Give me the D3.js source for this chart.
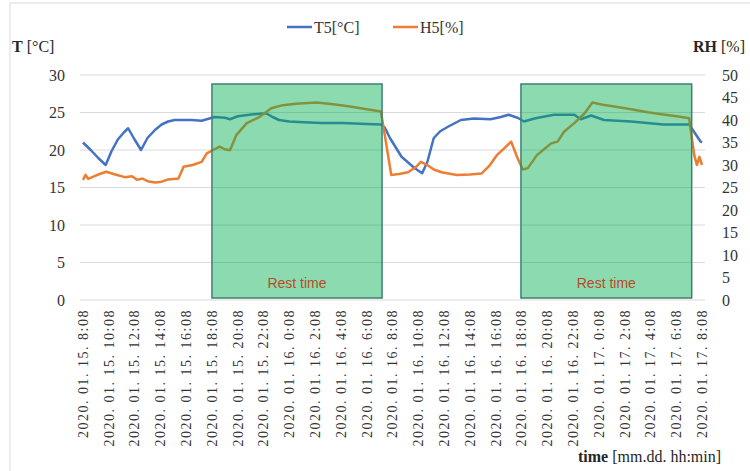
<!DOCTYPE html>
<html><head><meta charset="utf-8">
<script src="https://cdn.jsdelivr.net/npm/d3@7"></script>
<style>body{margin:0;background:#fff}svg{display:block}</style>
</head><body>
<svg id="c" width="750" height="471"></svg>
<script>
// hours since 2020.01.15 8:08
const tempHours = [0,0.6,1.2,1.76,2.2,2.7,3.2,3.5,4.0,4.5,5.0,5.6,6.1,6.6,7.1,7.6,8.4,9.2,10.2,11.0,11.4,12.0,12.9,13.5,14.2,14.7,15.2,16.0,17.1,18.5,20.1,21.5,23.1,23.4,23.8,24.7,25.7,26.3,26.7,27.2,27.7,28.3,29.3,30.3,31.6,32.4,33.0,33.7,34.2,35.0,36.5,38.1,38.6,39.4,40.4,42.5,45.0,47.0,47.9,48.0];
const tempValues = [21.0,20.0,18.9,18.0,19.8,21.4,22.4,22.9,21.4,20.0,21.6,22.7,23.4,23.8,24.0,24.0,24.0,23.9,24.4,24.3,24.1,24.5,24.7,24.8,24.9,24.4,24.0,23.8,23.7,23.6,23.6,23.5,23.4,23.0,21.6,19.1,17.6,16.9,18.4,21.6,22.5,23.1,24.0,24.2,24.1,24.4,24.7,24.3,23.8,24.2,24.7,24.7,24.1,24.6,24.0,23.8,23.4,23.4,21.1,21.0];
const humHours = [0,0.2,0.4,0.8,1.3,1.8,2.5,3.25,3.8,4.2,4.6,5.0,5.6,6.1,6.6,7.4,7.8,8.5,9.2,9.6,10.2,10.6,11.0,11.4,11.9,12.7,13.7,14.6,15.5,16.5,18.1,19.4,20.7,22.0,23.1,23.4,23.9,24.5,25.2,25.8,26.2,26.7,27.2,27.8,29.0,30.0,30.9,31.5,32.1,32.7,33.2,33.7,34.1,34.5,35.2,35.8,36.3,36.8,37.3,38.1,38.9,39.5,40.3,41.2,42.5,43.8,45.0,46.3,47.0,47.4,47.6,47.8,48.0];
const humValues = [26.7,27.8,26.9,27.4,28.0,28.5,27.9,27.3,27.5,26.7,27.0,26.4,26.1,26.3,26.8,27.0,29.6,30.0,30.7,32.6,33.5,34.1,33.5,33.3,36.7,39.3,40.7,42.6,43.3,43.6,43.9,43.5,43.0,42.4,41.9,36.7,27.8,28.0,28.4,29.5,30.7,30.0,29.0,28.4,27.8,27.9,28.1,29.8,32.2,33.8,35.2,31.5,29.0,29.3,32.2,33.6,34.8,35.2,37.4,39.3,41.5,43.9,43.4,43.0,42.4,41.7,41.2,40.7,40.4,32.2,30.0,31.8,30.0];
const tickLabels = ["2020. 01. 15. 8:08","2020. 01. 15. 10:08","2020. 01. 15. 12:08","2020. 01. 15. 14:08","2020. 01. 15. 16:08","2020. 01. 15. 18:08","2020. 01. 15. 20:08","2020. 01. 15. 22:08","2020. 01. 16. 0:08","2020. 01. 16. 2:08","2020. 01. 16. 4:08","2020. 01. 16. 6:08","2020. 01. 16. 8:08","2020. 01. 16. 10:08","2020. 01. 16. 12:08","2020. 01. 16. 14:08","2020. 01. 16. 16:08","2020. 01. 16. 18:08","2020. 01. 16. 20:08","2020. 01. 16. 22:08","2020. 01. 17. 0:08","2020. 01. 17. 2:08","2020. 01. 17. 4:08","2020. 01. 17. 6:08","2020. 01. 17. 8:08"];
const tickHours = tickLabels.map((d,i)=>i*2);
const leftTicks = [0,5,10,15,20,25,30];
const rightTicks = [0,5,10,15,20,25,30,35,40,45,50];
const restStart = [10.0, 33.96];
const restEnd = [23.19, 47.2];
const restTop = 28.8;
const restLabel = "Rest time";
const seriesNames = ["T5[°C]","H5[%]"];
const colors = ["#4472c4","#ed7d31"];

const svg = d3.select("#c");
const x = d3.scaleLinear().domain([0,48]).range([83,702]);
const yT = d3.scaleLinear().domain([0,30]).range([300,75]);
const yH = d3.scaleLinear().domain([0,50]).range([300,75]);
const serif = "Liberation Serif, DejaVu Serif, Times New Roman, serif";

// frame
svg.append("rect").attr("x",10).attr("y",3).attr("width",780).attr("height",500)
  .attr("fill","none").attr("stroke","#d9d9d9");

// gridlines
svg.append("g").selectAll("line").data(leftTicks).join("line")
  .attr("x1",80).attr("x2",705).attr("y1",d=>yT(d)).attr("y2",d=>yT(d))
  .attr("stroke","#d9d9d9").attr("stroke-width",1);

// left axis labels
svg.append("g").selectAll("text").data(leftTicks).join("text")
  .attr("x",65).attr("y",d=>yT(d)).attr("dy","0.35em").attr("text-anchor","end")
  .style("font-family",serif).attr("font-size",16).attr("fill","#333").text(d=>d);
// right axis labels
svg.append("g").selectAll("text").data(rightTicks).join("text")
  .attr("x",722).attr("y",d=>yH(d)).attr("dy","0.35em").attr("text-anchor","start")
  .style("font-family",serif).attr("font-size",16).attr("fill","#333").text(d=>d);

// x labels
svg.append("g").selectAll("text").data(tickLabels).join("text")
  .attr("transform",(d,i)=>`translate(${x(tickHours[i])},309) rotate(-90)`)
  .attr("dy","0.35em").attr("text-anchor","end")
  .style("font-family",serif).attr("font-size",14).attr("letter-spacing",1.5)
  .attr("fill","#333").text(d=>d);

// lines
const tempData = tempHours.map((h,i)=>[h,tempValues[i]]);
const humData = humHours.map((h,i)=>[h,humValues[i]]);
svg.append("path").datum(tempData).attr("fill","none").attr("stroke",colors[0]).attr("stroke-width",2.5)
  .attr("stroke-linejoin","round").attr("d",d3.line().x(d=>x(d[0])).y(d=>yT(d[1])));
svg.append("path").datum(humData).attr("fill","none").attr("stroke",colors[1]).attr("stroke-width",2.5)
  .attr("stroke-linejoin","round").attr("d",d3.line().x(d=>x(d[0])).y(d=>yH(d[1])));

// rest rectangles
const rest = restStart.map((s,i)=>({s,e:restEnd[i]}));
const rg = svg.append("g");
rg.selectAll("rect").data(rest).join("rect")
  .attr("x",d=>x(d.s)).attr("width",d=>x(d.e)-x(d.s))
  .attr("y",yT(restTop)).attr("height",yT(0)-yT(restTop)-2)
  .attr("fill","#00b050").attr("fill-opacity",0.45)
  .attr("stroke","#3f7f72").attr("stroke-width",1.5);
rg.selectAll("text").data(rest).join("text")
  .attr("x",d=>(x(d.s)+x(d.e))/2).attr("y",288).attr("text-anchor","middle")
  .style("font-family","Liberation Sans, Arial, sans-serif").attr("font-size",14).attr("font-weight",500)
  .attr("fill","#b84a2a").text(restLabel);

// legend
const lg = svg.append("g");
const lx = [287,393];
seriesNames.forEach((n,i)=>{
  lg.append("line").attr("x1",lx[i]).attr("x2",lx[i]+25).attr("y1",27).attr("y2",27)
    .attr("stroke",colors[i]).attr("stroke-width",2.5);
  lg.append("text").attr("x",lx[i]+27).attr("y",27).attr("dy","0.35em")
    .style("font-family",serif).attr("font-size",16).attr("fill","#333").text(n);
});

// axis titles
const t1 = svg.append("text").attr("x",12).attr("y",52).style("font-family",serif).attr("font-size",16).attr("fill","#262626");
t1.append("tspan").attr("font-weight","bold").text("T");
t1.append("tspan").text(" [°C]");
const t2 = svg.append("text").attr("x",693).attr("y",52).style("font-family",serif).attr("font-size",16).attr("fill","#262626");
t2.append("tspan").attr("font-weight","bold").text("RH");
t2.append("tspan").text(" [%]");
const t3 = svg.append("text").attr("x",578).attr("y",462).style("font-family",serif).attr("font-size",16).attr("fill","#262626");
t3.append("tspan").attr("font-weight","bold").text("time");
t3.append("tspan").text(" [mm.dd. hh:min]");
</script>
</body></html>
